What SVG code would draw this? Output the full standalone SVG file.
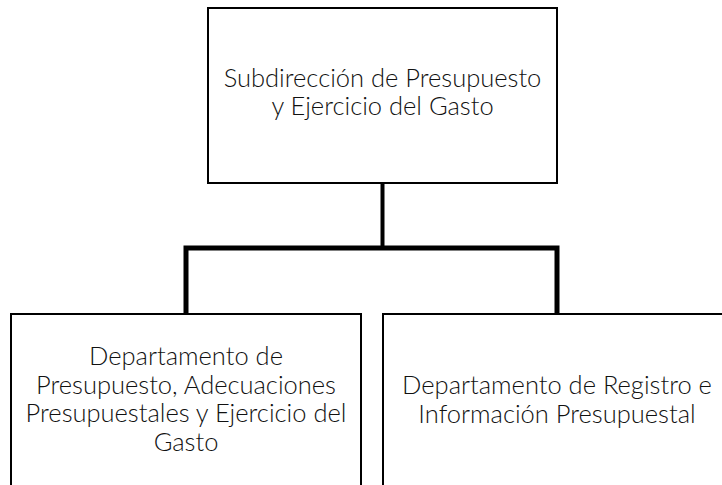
<svg xmlns="http://www.w3.org/2000/svg" width="722" height="485" viewBox="0 0 722 485">
<style>
.box{fill:#fff;stroke:#000;stroke-width:2}
.t{font-family:Lato,"Open Sans","Liberation Sans",sans-serif;font-weight:300;font-size:25.5px;fill:#111;text-anchor:middle}
.c{fill:none;stroke:#000;stroke-linecap:square;stroke-linejoin:miter}
</style>
<rect width="722" height="485" fill="#fff"/>
<g id="connectors">
<path class="c" d="M382.5 183 V248" stroke-width="4"/>
<path class="c" d="M186 313 V248 H557 V313" stroke-width="5"/>
</g>
<g id="top">
<rect class="box" x="208" y="8" width="349" height="175"/>
<text class="t" x="382.5" y="86.5">Subdirección de Presupuesto</text>
<text class="t" x="382.5" y="115">y Ejercicio del Gasto</text>
</g>
<g id="left">
<rect class="box" x="11" y="314" width="350" height="180"/>
<text class="t" x="186" y="365">Departamento de</text>
<text class="t" x="186" y="393.5">Presupuesto, Adecuaciones</text>
<text class="t" x="186" y="422">Presupuestales y Ejercicio del</text>
<text class="t" x="186" y="450.5">Gasto</text>
</g>
<g id="right">
<rect class="box" x="383" y="314" width="350" height="180"/>
<text class="t" x="557" y="394">Departamento de Registro e</text>
<text class="t" x="557" y="422.5">Información Presupuestal</text>
</g>
</svg>
